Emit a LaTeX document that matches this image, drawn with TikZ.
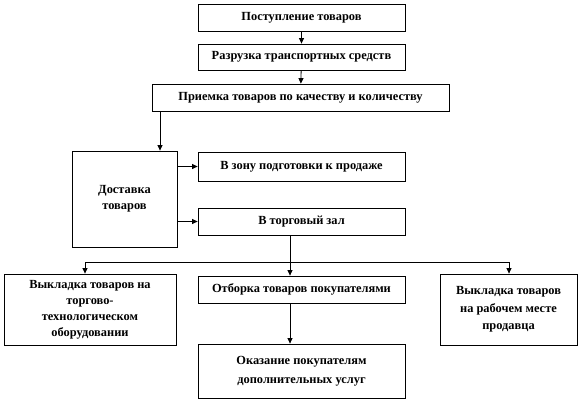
\documentclass[tikz,border=0pt]{standalone}
\usepackage{fontspec}
\setmainfont{Liberation Serif}
\usetikzlibrary{arrows.meta}
\tikzset{
  stage/.style={draw,line width=0.8pt,align=center,font=\bfseries\fontsize{12.4}{16}\selectfont,inner sep=2pt},
  flow/.style={line width=0.8pt,-{Triangle[length=5.5pt,width=5pt]}}
}
\begin{document}
\begin{tikzpicture}[x=1pt,y=-1pt]
    \useasboundingbox (0,0) rectangle (579,402);
    %% Boxes
    \node[stage,minimum width=207pt,minimum height=27pt] (post) at (301.5,17.5) {Поступление  товаров};
    \node[stage,minimum width=207pt,minimum height=26pt] (razg) at (301.5,57) {Разрузка транспортных  средств};
    \node[stage,minimum width=297pt,minimum height=27pt] (priem) at (300.5,97.5) {Приемка товаров по качеству и количеству};
    \node[stage,minimum width=105pt,minimum height=96pt] (dost) at (124.5,199) {Доставка\\товаров};
    \node[stage,minimum width=207pt,minimum height=29pt] (zona) at (301.5,166.5) {В зону подготовки  к продаже};
    \node[stage,minimum width=207pt,minimum height=27pt] (zal) at (301.5,221.5) {В торговый зал};
    \node[stage,minimum width=172pt,minimum height=71pt] (vykl1) at (90,309.5) {Выкладка  товаров на\\торгово-\\технологическом\\оборудовании};
    \node[stage,minimum width=207pt,minimum height=27pt] (otb) at (301.5,289.5) {Отборка товаров покупателями};
    \node[stage,minimum width=207pt,minimum height=54pt,font=\bfseries\fontsize{12.4}{19}\selectfont] (okaz) at (301.5,371) {Оказание  покупателям\\дополнительных  услуг};
    \node[stage,minimum width=137pt,minimum height=71pt,font=\bfseries\fontsize{12.4}{17.5}\selectfont] (vykl2) at (508.5,309.5) {Выкладка  товаров\\на рабочем месте\\продавца};
    %% Arrows
    \draw[flow] (post) -- (razg);
    \draw[flow] (razg) -- (priem);
    \draw[flow] (priem.south -| 160,0) -- (dost.north -| 160,0);
    \draw[flow] (dost.east |- zona) -- (zona);
    \draw[flow] (dost.east |- zal) -- (zal);
    \coordinate (split) at (290,262);
    \draw[line width=0.8pt] (zal.south -| split) -- (split);
    \draw[flow] (split) -| (vykl1.north -| 85,0);
    \draw[flow] (split) -| (vykl2.north -| 509,0);
    \draw[flow] (split) -- (otb.north -| split);
    \draw[flow] (otb.south -| split) -- (okaz.north -| split);
\end{tikzpicture}
\end{document}
